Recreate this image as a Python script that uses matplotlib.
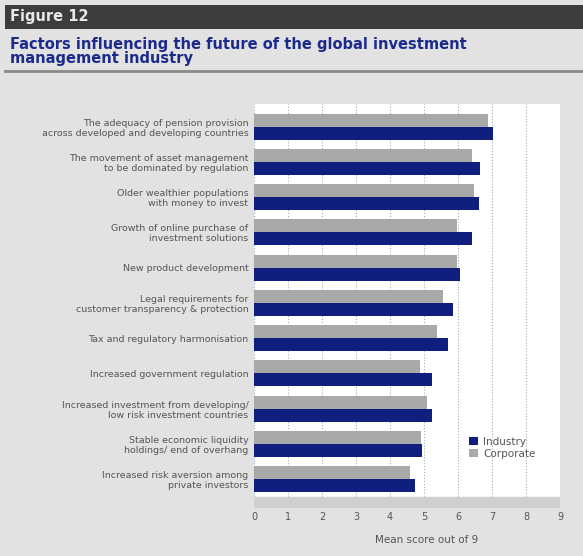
import matplotlib.pyplot as plt
import numpy as np

# Factors, top to bottom
factors = [
    "The adequacy of pension provision\nacross developed and developing countries",
    "The movement of asset management\nto be dominated by regulation",
    "Older wealthier populations\nwith money to invest",
    "Growth of online purchase of\ninvestment solutions",
    "New product development",
    "Legal requirements for\ncustomer transparency & protection",
    "Tax and regulatory harmonisation",
    "Increased government regulation",
    "Increased investment from developing/\nlow risk investment countries",
    "Stable economic liquidity\nholdings/ end of overhang",
    "Increased risk aversion among\nprivate investors",
]
industry = [7.03, 6.65, 6.62, 6.41, 6.06, 5.86, 5.71, 5.24, 5.24, 4.94, 4.74]
corporate = [6.88, 6.41, 6.47, 5.97, 5.97, 5.56, 5.38, 4.88, 5.09, 4.91, 4.59]
ticks = list(range(10))

BG = "#e2e2e2"
NAVY = "#101e7e"
GREY = "#a9a9a9"
TXT = "#555555"

fig = plt.figure(figsize=(5.83, 5.56), dpi=100)
fig.patch.set_facecolor(BG)
W, H = 583, 556

def fx(px):
    return px / W

def fy(py):
    return 1 - py / H

# header strip
fig.patches.append(plt.Rectangle((fx(5), fy(29)), fx(578), 24 / H, transform=fig.transFigure,
                                 facecolor="#3c3c3c", edgecolor="none"))
fig.text(fx(10), fy(17), "Figure 12", color="#e8e8e8", fontsize=10.5, fontweight="bold", va="center")
fig.text(fx(10), fy(44), "Factors influencing the future of the global investment",
         color="#1c2a8c", fontsize=10.5, fontweight="bold", va="center")
fig.text(fx(10), fy(59), "management industry",
         color="#1c2a8c", fontsize=10.5, fontweight="bold", va="center")
fig.lines.append(plt.Line2D([fx(5), fx(583)], [fy(71), fy(71)], transform=fig.transFigure,
                            color="#8a8a8a", lw=2))

ax = fig.add_axes([fx(254), fy(508), fx(560) - fx(254), (508 - 104) / H])
ax.set_facecolor("white")

y = np.arange(len(factors))
h = 0.37
ax.barh(y - h / 2, corporate, height=h, color=GREY, label="Corporate", zorder=3)
ax.barh(y + h / 2, industry, height=h, color=NAVY, label="Industry", zorder=3)

# floor strip under the bars
ax.axhspan(10.51, 10.82, color="#cfcfcf", zorder=2)

ax.set_xlim(0, 9)
ax.set_ylim(10.82, -0.64)
ax.set_xticks(ticks)
ax.set_xticklabels([str(t) for t in ticks], color=TXT, fontsize=7)
ax.tick_params(axis="x", length=0, pad=3)
ax.set_yticks(y)
ax.set_yticklabels(factors, color=TXT, fontsize=6.8, linespacing=1.15)
ax.tick_params(axis="y", length=0, pad=4)
ax.grid(axis="x", color="#9ab0b8", linestyle=":", lw=0.8, zorder=1)
for s in ax.spines.values():
    s.set_visible(False)

fig.text(fx(427), fy(540), "Mean score out of 9", color=TXT, fontsize=7.5, ha="center", va="center")

hs, ls = ax.get_legend_handles_labels()
ax.legend(hs[::-1], ls[::-1], loc="center left", bbox_to_anchor=(fx(460), fy(448)),
          bbox_transform=fig.transFigure, frameon=False, fontsize=7.5,
          handlelength=0.8, handleheight=0.8, handletextpad=0.5, labelspacing=0.2,
          labelcolor=TXT)

fig.savefig("out.png", dpi=100, facecolor=BG)
